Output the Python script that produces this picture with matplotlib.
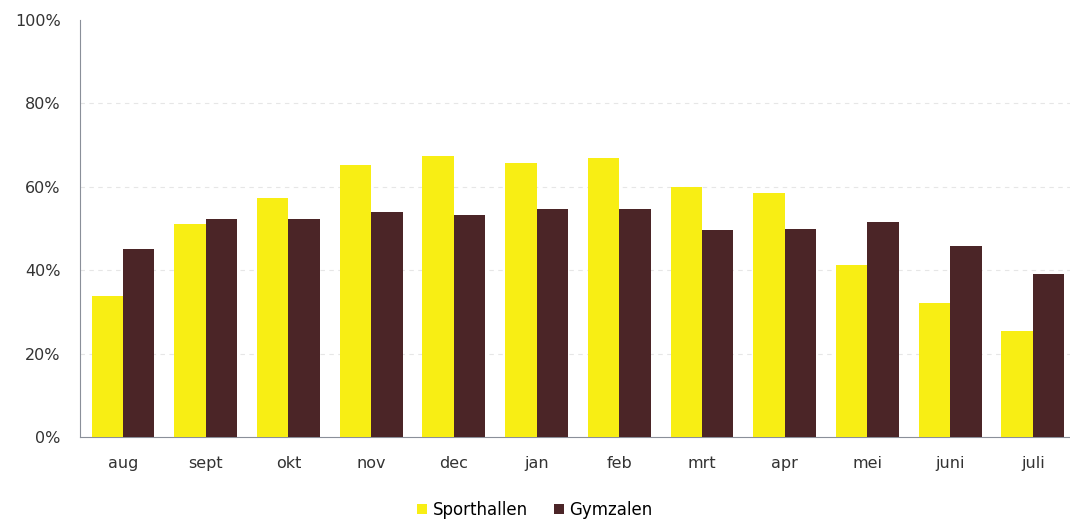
import matplotlib
matplotlib.use('Agg')
import matplotlib.pyplot as plt
import numpy as np
from matplotlib.ticker import PercentFormatter

plt.rcParams.update({'font.family': 'DejaVu Sans', 'font.size': 11})

maanden = ['aug', 'sept', 'okt', 'nov', 'dec', 'jan', 'feb', 'mrt', 'apr', 'mei', 'juni', 'juli']
sporthallen = [33.9, 51.1, 57.2, 65.2, 67.4, 65.6, 66.8, 60.0, 58.4, 41.2, 32.1, 25.3]
gymzalen = [45.2, 52.2, 52.2, 54.0, 53.2, 54.6, 54.6, 49.6, 50.0, 51.6, 45.8, 39.0]

GEEL = '#F8EE14'
BRUIN = '#4B2527'

fig = plt.figure(figsize=(10.7, 5.23), dpi=100)
ax = fig.add_axes([80/1070, 1 - 437/523, 990/1070, 417/523])

x = np.arange(len(maanden))
w = 0.38
ax.bar(x - w/2, sporthallen, w, color=GEEL, label='Sporthallen', zorder=3)
ax.bar(x + w/2, gymzalen, w, color=BRUIN, label='Gymzalen', zorder=3)

ax.set_ylim(0, 100)
ax.set_xlim(-0.52, 11.45)
ax.set_yticks([0, 20, 40, 60, 80, 100])
ax.yaxis.set_major_formatter(PercentFormatter(decimals=0))
ax.set_xticks(x)
ax.set_xticklabels(maanden)
ax.tick_params(axis='both', length=0, colors='#333333', labelsize=11.5)
ax.tick_params(axis='y', pad=14)
ax.tick_params(axis='x', pad=14)

for y in [20, 40, 60, 80]:
    ax.axhline(y, color='#e6e6e6', lw=0.8, ls=(0, (4, 4)), zorder=1)

for s in ['top', 'right']:
    ax.spines[s].set_visible(False)
ax.spines['left'].set_color('#8a8f99')
ax.spines['bottom'].set_color('#8a8f99')

fig.legend(loc='center', bbox_to_anchor=(0.5, 1 - 510/523), ncol=2, frameon=False,
           handlelength=0.6, handleheight=0.6, handletextpad=0.3, columnspacing=1.6,
           fontsize=12)

fig.savefig('out.png', dpi=100)
